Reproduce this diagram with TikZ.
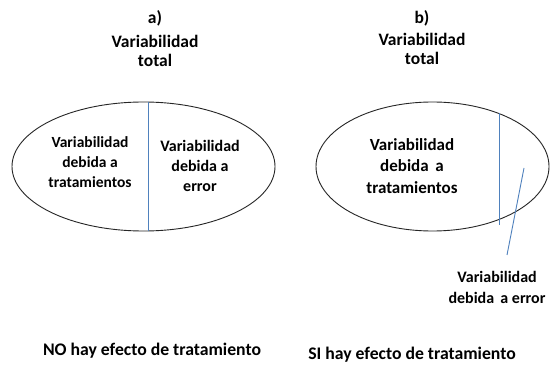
\documentclass[tikz,border=0pt]{standalone}
\usepackage{fontspec}
\setmainfont{Carlito}
\usetikzlibrary{shapes.geometric}
\definecolor{divblue}{RGB}{79,129,189}
\begin{document}
\begin{tikzpicture}[x=1pt,y=-1pt,
  lbl/.style={font=\bfseries\fontsize{17.5}{18.5}\selectfont, align=center, inner sep=0pt},
  inlbl/.style={font=\bfseries\fontsize{15.5}{20}\selectfont, align=center, inner sep=0pt},
  botlbl/.style={font=\bfseries\fontsize{17.7}{20}\selectfont, inner sep=0pt},
  oval/.style={ellipse, draw=black!85, line width=0.9pt, inner sep=0pt},
  divline/.style={draw=divblue, line width=0.9pt}]
\useasboundingbox[fill=white] (0,0) rectangle (551,366);
% panel a
\node[lbl] (pa) at (155,18) {a)};
\node[lbl] (ta) at (155,51) {Variabilidad\\total};
\node[oval, minimum width=263pt, minimum height=129pt] (ea) at (143.5,166.5) {};
\coordinate (a1) at (148,102);
\coordinate (a2) at (148,231);
\draw[divline] (a1) -- (a2);
\node[inlbl] (la) at (90,162) {Variabilidad\\debida a\\tratamientos};
\node[inlbl, font=\bfseries\fontsize{16}{20}\selectfont] (ra) at (200,166) {Variabilidad\\debida a\\error};
\node[botlbl] (na) at (152,351) {NO hay efecto de tratamiento};
% panel b
\node[lbl] (pb) at (422,18) {b)};
\node[lbl] (tb) at (422,49) {Variabilidad\\total};
\node[oval, minimum width=233pt, minimum height=129pt] (eb) at (432.5,166.5) {};
\coordinate (b1) at (499,113);
\coordinate (b2) at (499,225);
\draw[divline] (b1) -- (b2);
\coordinate (c1) at (524,168);
\coordinate (c2) at (507,255);
\draw[divline] (c1) -- (c2);
\node[inlbl, font=\bfseries\fontsize{17}{21.5}\selectfont] (lb) at (412,166) {Variabilidad\\debida\, a\\tratamientos};
\node[lbl, font=\bfseries\fontsize{16}{21}\selectfont] (eb2) at (497,287) {Variabilidad\\debida\, a error};
\node[botlbl] (nb) at (412,355) {SI hay efecto de tratamiento};
\end{tikzpicture}
\end{document}
